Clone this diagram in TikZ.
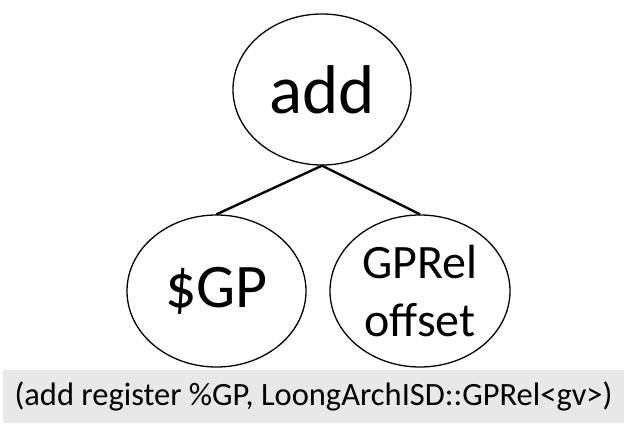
\documentclass[tikz,border=0pt]{standalone}
\usepackage{fontspec}
\setmainfont{Carlito}
\usetikzlibrary{shapes.geometric}
\begin{document}
\begin{tikzpicture}[x=1pt,y=-1pt,
  treenode/.style={ellipse,draw=black,line width=1.3pt,inner sep=0pt,align=center},
  edge/.style={draw=black,line width=2.4pt}]
\useasboundingbox (0,0) rectangle (638,431);
\node[treenode,minimum width=178pt,minimum height=151pt,font=\fontsize{69}{80}\selectfont] (add) at (322,89.5) {add};
\node[treenode,minimum width=179pt,minimum height=152pt,font=\fontsize{62}{74}\selectfont] (gp) at (216.5,291) {\$GP};
\node[treenode,minimum width=180pt,minimum height=152pt,font=\fontsize{48}{58}\selectfont] (rel) at (420,291) {GPRel\\offset};
\draw[edge] (add.south) -- (gp.north);
\draw[edge] (add.south) -- (rel.north);
\node[fill=black!9,minimum width=621pt,minimum height=53pt,inner sep=0pt,font=\fontsize{32.5}{38}\selectfont] (expr) at (313.5,396.5) {(add register \%GP, LoongArchISD::GPRel<gv>)};
\end{tikzpicture}
\end{document}
